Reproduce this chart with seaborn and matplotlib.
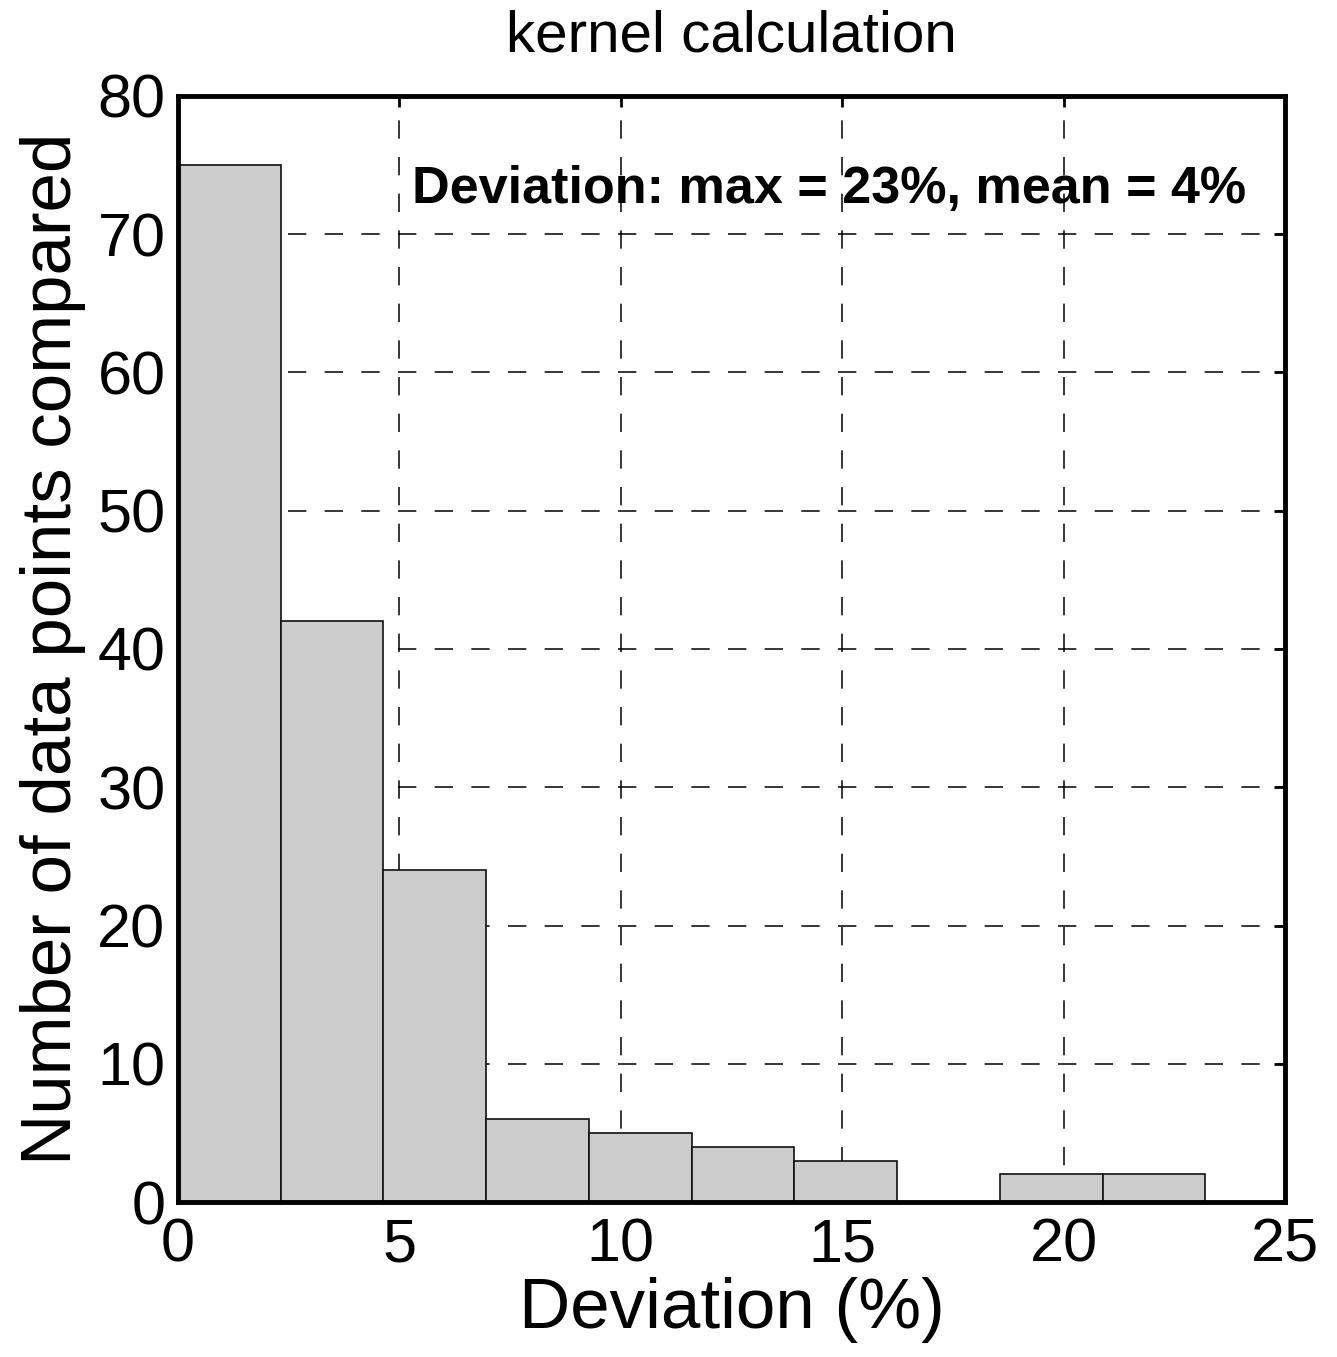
import numpy as np
import pandas as pd
import matplotlib
matplotlib.use("Agg")
import matplotlib.pyplot as plt
import seaborn as sns

# Data
bin_edges = [0.0, 2.32, 4.64, 6.96, 9.28, 11.6, 13.92, 16.24, 18.56, 20.88, 23.2]
counts = [75, 42, 24, 6, 5, 4, 3, 0, 2, 2]
x_ticks = [0, 5, 10, 15, 20, 25]
y_ticks = [0, 10, 20, 30, 40, 50, 60, 70, 80]
title = "kernel calculation"
xlabel = "Deviation (%)"
ylabel = "Number of data points compared"
note = "Deviation: max = 23%, mean = 4%"

centers = [(a + b) / 2 for a, b in zip(bin_edges[:-1], bin_edges[1:])]
df = pd.DataFrame({"dev": centers, "n": counts})

sns.set_theme(style="white")
plt.rcParams['font.family'] = ['Liberation Sans', 'DejaVu Sans']

fig = plt.figure(figsize=(13.37, 13.57), dpi=100)
ax = fig.add_axes([0.1331, 0.1142, 0.8280, 0.8151])

ax.set_axisbelow(True)
ax.grid(True, color='black', linestyle=(0, (12, 12)), linewidth=1.1)

sns.histplot(data=df, x="dev", weights="n", bins=bin_edges, ax=ax,
             color="#cccccc", edgecolor="#111111", linewidth=1.2, alpha=1.0)

ax.set_xlim(0, 25)
ax.set_ylim(0, 80)
ax.set_xticks(x_ticks)
ax.set_yticks(y_ticks)
ax.tick_params(axis='both', which='both', direction='in', length=8, width=2,
               top=True, right=True, labelsize=44, colors='black', pad=9)
ax.tick_params(axis='x', pad=11)
for s in ax.spines.values():
    s.set_visible(True)
    s.set_color('black')
    s.set_linewidth(3.5)

ax.set_xlabel(xlabel, fontsize=51, color='black', labelpad=2)
ax.set_ylabel(ylabel, fontsize=51, color='black', labelpad=8)
ax.set_title(title, fontsize=42, color='black', pad=32)

ax.text(5.28, 73.2, note, fontsize=37.5, fontweight='bold', color='black',
        ha='left', va='center')

fig.savefig("out.png", dpi=100, facecolor='white')
